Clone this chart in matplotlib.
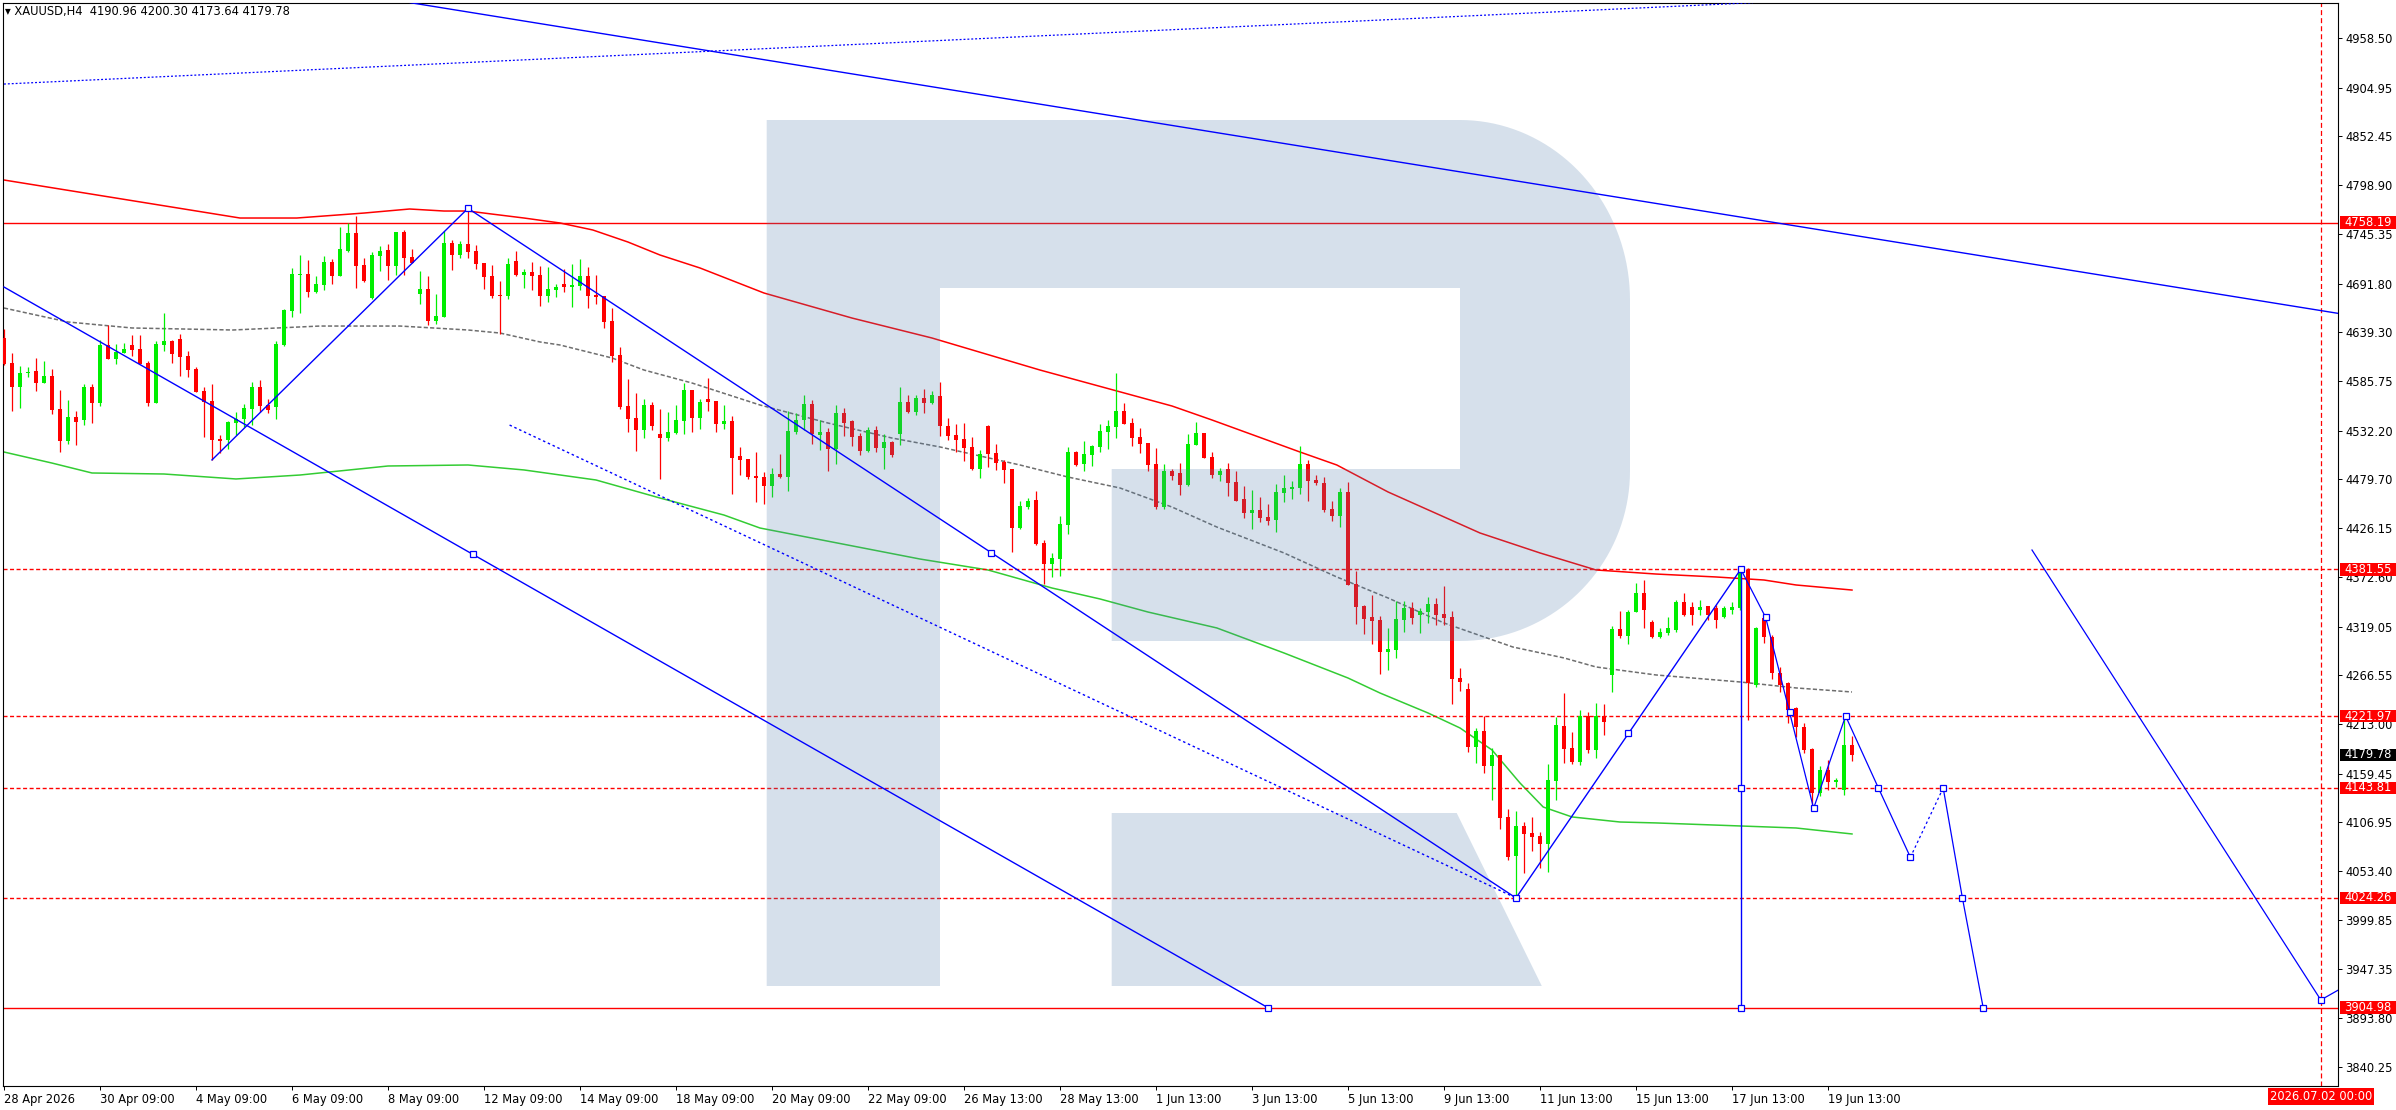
import numpy as np
import matplotlib
matplotlib.use("Agg")
import matplotlib.pyplot as plt
from matplotlib.patches import Polygon, Rectangle
from matplotlib.transforms import blended_transform_factory

plt.rcParams["font.family"] = ["DejaVu Sans"]
plt.rcParams["lines.scale_dashes"] = False

# ---- data (H4 candles, index 0 = 28 Apr 2026) ----
SYMBOL = "XAUUSD,H4"
HEADER_OHLC = [4190.96, 4200.30, 4173.64, 4179.78]

opens = [4632.5, 4605.7, 4580.0, 4594.4, 4597.0, 4584.3, 4591.6, 4556.1, 4521.3, 4547.0,
         4544.1, 4579.6, 4562.6, 4625.2, 4610.4, 4616.9, 4625.2, 4620.9, 4605.7, 4562.6,
         4625.2, 4629.6, 4631.8, 4613.3, 4599.2, 4575.3, 4564.4, 4523.1, 4522.0, 4540.8,
         4545.2, 4556.1, 4579.6, 4560.0, 4558.2, 4625.2, 4662.5, 4701.3, 4702.4, 4683.2,
         4690.8, 4715.4, 4700.6, 4727.7, 4746.9, 4712.1, 4676.7, 4722.3, 4728.4, 4711.4,
         4748.0, 4720.8, 4681.0, 4686.1, 4651.7, 4656.0, 4736.0, 4723.4, 4735.0, 4727.3,
         4714.3, 4700.5, 4679.9, 4678.8, 4716.5, 4701.6, 4704.5, 4701.2, 4678.8, 4685.3,
         4691.5, 4688.6, 4689.7, 4700.2, 4679.9, 4678.4, 4651.3, 4614.3, 4558.9, 4545.9,
         4533.2, 4560.0, 4528.5, 4524.5, 4529.9, 4543.0, 4576.3, 4546.2, 4566.5, 4564.4,
         4539.7, 4542.6, 4504.6, 4501.3, 4483.2, 4481.8, 4472.4, 4485.0, 4482.1, 4531.0,
         4544.1, 4561.1, 4527.8, 4530.7, 4512.6, 4551.3, 4542.6, 4526.3, 4510.4, 4532.8,
         4513.6, 4519.8, 4528.9, 4563.3, 4552.8, 4567.6, 4562.2, 4569.8, 4537.2, 4527.4,
         4523.0, 4514.3, 4490.4, 4537.2, 4507.8, 4498.0, 4490.4, 4426.7, 4449.1, 4456.7,
         4410.0, 4387.6, 4393.0, 4429.9, 4508.9, 4496.2, 4506.0, 4514.7, 4531.0, 4536.4,
         4553.4, 4540.4, 4525.2, 4518.7, 4495.9, 4449.5, 4488.3, 4486.1, 4473.1, 4516.5,
         4529.2, 4503.5, 4483.9, 4490.5, 4476.3, 4457.9, 4442.6, 4445.9, 4438.3, 4435.1,
         4464.4, 4468.7, 4469.8, 4495.9, 4478.5, 4475.2, 4447.0, 4439.4, 4465.5, 4365.9,
         4341.6, 4329.6, 4326.4, 4291.6, 4293.7, 4326.3, 4339.3, 4331.7, 4335.0, 4343.7,
         4332.8, 4329.6, 4263.3, 4251.3, 4188.3, 4205.7, 4167.7, 4179.6, 4112.2, 4069.9,
         4102.5, 4094.9, 4091.6, 4082.9, 4151.4, 4211.1, 4187.2, 4172.0, 4222.0, 4185.0,
         4222.0, 4266.5, 4316.5, 4309.0, 4335.5, 4355.4, 4324.6, 4308.3, 4311.9, 4315.6,
         4346.3, 4340.9, 4337.3, 4341.6, 4339.1, 4329.3, 4337.3, 4339.1, 4380.7, 4255.8,
         4328.2, 4308.3, 4268.5, 4257.6, 4230.4, 4210.5, 4185.9, 4138.0, 4163.3, 4150.5,
         4141.6, 4190.96]
highs = [4642.6, 4616.2, 4602.4, 4601.7, 4610.7, 4607.9, 4599.2, 4576.3, 4565.5, 4553.5,
         4582.9, 4582.5, 4630.7, 4647.3, 4626.3, 4627.4, 4636.1, 4636.1, 4607.9, 4629.6,
         4660.4, 4630.7, 4637.2, 4618.7, 4601.0, 4580.0, 4582.9, 4527.4, 4542.7, 4552.4,
         4561.5, 4584.7, 4587.2, 4566.6, 4629.6, 4664.7, 4708.9, 4723.0, 4717.6, 4700.2,
         4721.9, 4718.7, 4753.4, 4758.1, 4765.4, 4719.7, 4726.3, 4732.8, 4735.0, 4748.0,
         4750.2, 4729.5, 4705.6, 4700.2, 4680.6, 4749.1, 4739.3, 4738.2, 4773.7, 4733.8,
         4714.3, 4712.1, 4694.7, 4719.7, 4727.3, 4707.8, 4715.4, 4711.0, 4709.9, 4691.5,
         4707.8, 4713.2, 4718.6, 4710.0, 4701.2, 4678.4, 4665.4, 4623.0, 4588.3, 4573.0,
         4566.5, 4563.3, 4555.7, 4552.4, 4560.0, 4583.9, 4576.3, 4566.5, 4589.3, 4564.4,
         4560.0, 4548.1, 4514.4, 4501.3, 4508.9, 4487.2, 4491.5, 4506.8, 4553.5, 4551.3,
         4570.9, 4565.4, 4543.7, 4535.0, 4560.0, 4556.7, 4543.7, 4529.6, 4536.1, 4537.2,
         4528.5, 4520.9, 4579.6, 4570.9, 4570.9, 4577.4, 4575.2, 4585.0, 4545.8, 4539.3,
         4540.4, 4525.2, 4511.1, 4538.2, 4517.6, 4500.2, 4490.4, 4455.7, 4458.9, 4466.5,
         4413.6, 4399.5, 4439.4, 4514.3, 4510.0, 4520.9, 4516.5, 4539.3, 4543.7, 4594.7,
         4562.1, 4545.8, 4535.0, 4518.7, 4513.2, 4495.9, 4490.5, 4497.0, 4528.5, 4541.5,
         4529.2, 4508.9, 4491.5, 4497.0, 4488.3, 4472.0, 4467.6, 4460.0, 4452.4, 4474.2,
         4483.9, 4477.4, 4515.4, 4500.2, 4483.9, 4481.8, 4455.7, 4469.8, 4476.3, 4379.6,
         4342.7, 4353.5, 4330.7, 4317.7, 4346.9, 4346.9, 4345.9, 4339.3, 4351.3, 4350.2,
         4363.3, 4336.1, 4274.1, 4257.8, 4208.9, 4222.0, 4187.2, 4179.6, 4120.9, 4118.8,
         4106.8, 4112.2, 4095.9, 4169.8, 4220.9, 4247.0, 4204.6, 4228.5, 4226.3, 4236.1,
         4235.0, 4319.8, 4336.1, 4337.3, 4366.3, 4369.9, 4326.6, 4317.4, 4329.3, 4348.1,
         4355.4, 4346.3, 4348.1, 4341.6, 4342.7, 4341.6, 4346.3, 4382.0, 4382.5, 4319.2,
         4329.3, 4310.0, 4275.7, 4259.4, 4232.2, 4214.0, 4187.0, 4168.0, 4174.2, 4154.3,
         4222.0, 4200.30]
lows = [4603.5, 4553.9, 4557.1, 4590.8, 4575.6, 4583.6, 4550.6, 4509.3, 4518.0, 4516.9,
        4538.7, 4540.8, 4559.3, 4609.7, 4604.6, 4616.2, 4613.6, 4604.6, 4559.0, 4561.9,
        4618.7, 4606.0, 4591.9, 4590.8, 4573.8, 4525.6, 4500.3, 4508.2, 4512.6, 4527.4,
        4536.5, 4538.7, 4552.8, 4551.7, 4545.2, 4624.5, 4656.0, 4660.4, 4677.7, 4681.4,
        4685.0, 4691.5, 4700.6, 4726.3, 4687.5, 4693.7, 4675.2, 4706.0, 4695.8, 4701.3,
        4701.3, 4713.9, 4670.1, 4647.3, 4648.4, 4656.0, 4707.1, 4720.1, 4720.1, 4708.1,
        4686.4, 4676.6, 4637.5, 4675.5, 4700.5, 4687.5, 4685.3, 4667.9, 4672.3, 4677.7,
        4683.1, 4666.8, 4685.3, 4665.7, 4670.1, 4644.0, 4606.4, 4556.0, 4530.7, 4510.4,
        4524.5, 4533.2, 4480.0, 4521.3, 4528.9, 4528.9, 4531.0, 4534.3, 4553.8, 4531.0,
        4533.9, 4463.7, 4484.3, 4480.0, 4455.0, 4452.8, 4460.4, 4481.0, 4466.9, 4528.9,
        4533.2, 4518.0, 4511.5, 4488.7, 4496.3, 4526.7, 4515.8, 4506.0, 4509.3, 4509.3,
        4490.8, 4503.9, 4516.9, 4551.7, 4549.5, 4551.7, 4561.5, 4526.7, 4522.3, 4509.3,
        4499.5, 4489.3, 4481.0, 4493.0, 4489.7, 4475.6, 4400.6, 4425.6, 4447.3, 4408.2,
        4365.8, 4373.4, 4374.5, 4420.2, 4494.0, 4488.6, 4494.0, 4509.3, 4512.5, 4524.5,
        4539.7, 4515.8, 4508.2, 4488.6, 4447.3, 4447.3, 4478.5, 4462.2, 4472.0, 4516.5,
        4502.8, 4480.7, 4477.4, 4461.1, 4455.7, 4437.2, 4425.3, 4433.2, 4429.6, 4422.4,
        4454.6, 4457.9, 4463.3, 4455.7, 4473.1, 4443.7, 4434.0, 4427.4, 4364.8, 4322.0,
        4311.2, 4300.3, 4267.7, 4272.0, 4285.0, 4313.3, 4322.0, 4312.2, 4323.0, 4320.9,
        4320.9, 4235.0, 4249.2, 4182.9, 4170.9, 4160.1, 4130.7, 4099.2, 4065.5, 4023.9,
        4051.4, 4075.3, 4056.8, 4052.5, 4130.7, 4170.9, 4169.8, 4168.7, 4181.8, 4176.4,
        4201.4, 4248.1, 4306.7, 4300.3, 4335.0, 4317.4, 4306.5, 4306.5, 4310.0, 4313.8,
        4331.0, 4321.0, 4331.8, 4326.4, 4317.4, 4328.0, 4333.0, 4337.0, 4217.8, 4253.0,
        4301.1, 4262.0, 4248.5, 4214.1, 4199.7, 4181.5, 4125.0, 4135.0, 4141.6, 4145.0,
        4136.2, 4173.64]
closes = [4604.6, 4580.0, 4594.8, 4596.3, 4584.3, 4591.6, 4555.0, 4521.3, 4547.0, 4541.9,
          4579.6, 4562.6, 4625.2, 4610.4, 4617.6, 4620.9, 4619.8, 4605.0, 4562.6, 4626.3,
          4629.6, 4615.8, 4612.6, 4598.4, 4574.5, 4563.7, 4522.0, 4521.3, 4541.6, 4545.2,
          4556.8, 4579.6, 4559.3, 4555.0, 4626.3, 4663.3, 4702.4, 4702.4, 4683.2, 4691.5,
          4715.4, 4700.6, 4729.5, 4746.9, 4711.4, 4694.8, 4723.0, 4727.4, 4711.4, 4748.0,
          4720.1, 4714.7, 4686.1, 4651.7, 4656.7, 4736.0, 4723.4, 4735.0, 4726.6, 4713.6,
          4699.4, 4678.8, 4678.8, 4713.2, 4701.6, 4704.5, 4700.5, 4678.8, 4686.0, 4688.2,
          4688.6, 4690.4, 4700.2, 4678.8, 4677.7, 4650.5, 4613.6, 4557.8, 4545.2, 4533.2,
          4560.0, 4537.5, 4524.5, 4530.7, 4543.7, 4576.3, 4546.2, 4563.3, 4563.6, 4539.7,
          4542.6, 4502.8, 4500.6, 4482.1, 4481.0, 4472.4, 4485.0, 4482.1, 4531.8, 4544.1,
          4561.1, 4528.5, 4530.7, 4512.6, 4551.3, 4540.8, 4525.6, 4510.4, 4532.8, 4513.6,
          4519.8, 4506.0, 4563.3, 4552.8, 4567.6, 4562.5, 4570.9, 4537.0, 4526.6, 4522.3,
          4513.6, 4490.4, 4506.7, 4507.1, 4497.3, 4489.7, 4426.7, 4450.2, 4455.7, 4409.3,
          4387.6, 4394.1, 4430.7, 4508.9, 4495.1, 4506.7, 4515.4, 4531.7, 4537.2, 4553.4,
          4539.7, 4524.5, 4518.0, 4495.1, 4449.5, 4488.3, 4482.9, 4473.1, 4517.6, 4529.2,
          4502.8, 4483.9, 4488.3, 4475.2, 4455.7, 4442.6, 4445.9, 4437.2, 4434.0, 4465.5,
          4469.8, 4470.9, 4495.9, 4477.4, 4475.2, 4445.9, 4439.4, 4465.5, 4364.8, 4340.5,
          4327.5, 4325.3, 4291.6, 4294.9, 4327.4, 4339.3, 4328.5, 4336.1, 4343.7, 4331.7,
          4328.5, 4262.2, 4258.9, 4188.3, 4205.7, 4167.7, 4179.6, 4111.2, 4068.8, 4102.5,
          4093.8, 4090.5, 4082.9, 4152.4, 4212.2, 4186.1, 4172.0, 4222.0, 4185.0, 4222.0,
          4215.5, 4316.5, 4308.9, 4335.5, 4355.4, 4337.3, 4308.3, 4313.7, 4317.4, 4346.3,
          4331.8, 4331.8, 4340.9, 4331.8, 4326.4, 4339.1, 4340.9, 4380.7, 4257.6, 4317.4,
          4308.3, 4268.5, 4255.8, 4228.6, 4210.5, 4185.2, 4138.7, 4163.3, 4150.7, 4152.5,
          4190.9, 4179.78]

# moving averages, sampled at bar indices
ma_red_x = [0, 29.5, 36.6, 45, 50.7, 55, 58, 61, 65, 69.5, 73.6, 78, 82, 87, 95, 106, 116,
            129.5, 146, 151, 162, 166.6, 173, 184.5, 192, 199, 206.5, 214, 220, 224, 231]
ma_red_y = [4804.5, 4763.2, 4763.2, 4768.6, 4773.0, 4770.8, 4770.8, 4767.5, 4763.2, 4757.8,
            4750.2, 4737.1, 4723.0, 4708.9, 4681.7, 4654.5, 4632.8, 4598.0, 4558.9, 4543.7,
            4508.9, 4494.8, 4465.5, 4420.9, 4399.2, 4380.7, 4376.3, 4373.1, 4369.8, 4364.4,
            4358.9]
ma_gray_x = [0, 8, 16, 28.6, 39.5, 49.5, 58, 62, 67, 69.5, 76, 80, 86, 94.5, 103, 111, 117,
             127, 133, 139.5, 146, 151.6, 160, 166.6, 173, 180, 188.6, 195, 199, 206.5, 217,
             224, 231]
ma_gray_y = [4665.4, 4650.2, 4643.7, 4641.5, 4645.8, 4645.8, 4641.5, 4638.2, 4628.5, 4625.2,
             4611.1, 4598.0, 4583.9, 4560.0, 4540.4, 4524.1, 4514.4, 4494.8, 4481.7, 4469.8,
             4449.1, 4427.4, 4399.2, 4373.1, 4350.3, 4323.1, 4297.0, 4285.1, 4275.3, 4266.6,
             4259.0, 4252.5, 4248.1]
ma_green_x = [0, 6, 11, 20, 29, 37, 48, 58, 65, 74, 82, 90, 94.5, 114.5, 123, 131, 137, 143,
              151.6, 160, 168, 172, 178, 182, 186, 189.5, 192.4, 196, 202, 206.5, 217, 224, 231]
ma_green_y = [4508.9, 4496.9, 4486.1, 4485.0, 4479.6, 4483.9, 4493.7, 4494.8, 4489.4, 4478.5,
              4458.9, 4440.4, 4426.3, 4392.6, 4380.7, 4361.1, 4349.2, 4335.0, 4317.7, 4290.5,
              4263.3, 4247.0, 4225.3, 4209.0, 4185.1, 4149.2, 4123.1, 4112.3, 4106.8, 4105.8,
              4102.5, 4100.3, 4093.8]

# horizontal levels
level_solid = [4758.19, 3904.98]
level_dotted = [4381.55, 4221.97, 4143.81, 4024.26]
last_price = 4179.78
future_bar = 289.6            # 2026.07.02 00:00
future_label = "2026.07.02 00:00"

# blue drawings: (bar index, price) anchor points
top_dotted = [(0, 4908.8), (218.6, 4997.2)]
top_trend = [(50.8, 4997.2), (291.75, 4659.6)]
channel_low = [(0, 4688.2), (158, 3904.98)]
channel_low_marks = [(58.6, 4398.1), (158, 3904.98)]
swing_a = [(26, 4500.3), (58, 4773.7), (189, 4024.26)]
swing_a_marks = [(58, 4773.7), (123.4, 4399.6), (189, 4024.26)]
mid_dotted = [(63.2, 4538.2), (189, 4024.26)]
swing_b = [(189, 4024.26), (217.1, 4381.55)]
swing_b_marks = [(203, 4203.2), (217.1, 4381.55)]
vert_line = [(217.1, 4381.55), (217.1, 3904.98)]
vert_marks = [(217.1, 4143.81), (217.1, 3904.98)]
fc_a = [(217.1, 4381.55), (220.2, 4329.3), (223.2, 4226.0), (226.2, 4121.7),
        (230.2, 4221.97), (234.3, 4143.81), (238.3, 4068.5)]
fc_b = [(238.3, 4068.5), (242.4, 4143.81)]
fc_c = [(242.4, 4143.81), (244.8, 4024.26), (247.4, 3904.98)]
fc_right = [(253.5, 4402.4), (289.6, 3913.4), (291.75, 3924.0)]
fc_marks = fc_a[1:] + fc_c + [(289.6, 3913.4)]

date_ticks = list(range(0, 229, 12))
date_labels = ["28 Apr 2026", "30 Apr 09:00", "4 May 09:00", "6 May 09:00", "8 May 09:00",
               "12 May 09:00", "14 May 09:00", "18 May 09:00", "20 May 09:00", "22 May 09:00",
               "26 May 13:00", "28 May 13:00", "1 Jun 13:00", "3 Jun 13:00", "5 Jun 13:00",
               "9 Jun 13:00", "11 Jun 13:00", "15 Jun 13:00", "17 Jun 13:00", "19 Jun 13:00"]
price_ticks = [4958.50, 4904.95, 4852.45, 4798.90, 4745.35, 4691.80, 4639.30, 4585.75,
               4532.20, 4479.70, 4426.15, 4372.60, 4319.05, 4266.55, 4213.00, 4159.45,
               4106.95, 4053.40, 3999.85, 3947.35, 3893.80, 3840.25]

# ---- layout (pixels) ----
W, H = 2396, 1110
AX_L, AX_R, AX_T, AX_B = 2.7, 2338.0, 2.7, 1086.0
FS = 8.3
GREEN, RED, BLUE = "#00ee00", "#ff0000", "#0000ff"

fig = plt.figure(figsize=(W / 100, H / 100), dpi=100, facecolor="white")
ax = fig.add_axes([AX_L / W, 1 - AX_B / H, (AX_R - AX_L) / W, (AX_B - AX_T) / H])
ax.set_xlim(-0.16, 291.75)
ax.set_ylim(3819.9, 4997.2)

# candles
o, hi, lo, c = map(np.array, (opens, highs, lows, closes))
idx = np.arange(len(o))
col = np.where(c >= o, GREEN, RED)
ax.vlines(idx, lo, hi, colors=col, lw=0.9, zorder=3)
ax.bar(idx, np.maximum(np.abs(c - o), 1.1), bottom=np.minimum(o, c), width=0.62,
       color=col, lw=0, zorder=3)

# moving averages
ax.plot(ma_red_x, ma_red_y, color=RED, lw=1.1, zorder=2)
ax.plot(ma_gray_x, ma_gray_y, color="#6e6e6e", lw=1.1, ls=(0, (3.0, 1.6)), zorder=2)
ax.plot(ma_green_x, ma_green_y, color="#33cc33", lw=1.1, zorder=2)

# horizontal levels + vertical time line
for lv in level_solid:
    ax.axhline(lv, color=RED, lw=1.0, zorder=2)
for lv in level_dotted:
    ax.axhline(lv, color=RED, lw=1.0, ls=(0, (2.9, 1.8)), zorder=2)
ax.axvline(future_bar, color=RED, lw=0.9, ls=(0, (3.6, 2.2)), zorder=2)

# watermark logo (pixel geometry -> axes fraction)
def to_ax(pts):
    return [((x - AX_L) / (AX_R - AX_L), (AX_B - y) / (AX_B - AX_T)) for x, y in pts]

t1 = np.linspace(np.pi / 2, 0, 40)
t2 = np.linspace(0, -np.pi / 2, 40)
arc_top = [(1460 + 170 * np.cos(t), 300 - 180 * np.sin(t)) for t in t1]
arc_bot = [(1460 + 170 * np.cos(t), 471 - 170 * np.sin(t)) for t in t2]
body = ([(766.7, 120)] + arc_top + arc_bot +
        [(1111.7, 641), (1111.7, 469), (1460, 469), (1460, 288), (940, 288),
         (940, 986), (766.7, 986)])
leg = [(1111.7, 813), (1456.7, 813), (1541.8, 986), (1111.7, 986)]
for shape in (body, leg):
    ax.add_patch(Polygon(to_ax(shape), closed=True, transform=ax.transAxes,
                         facecolor="#517eac", alpha=0.235, lw=0, zorder=4))

# blue drawings
def line(pts, **kw):
    xs, ys = zip(*pts)
    ax.plot(xs, ys, color=BLUE, zorder=6, **kw)

def marks(pts):
    xs, ys = zip(*pts)
    ax.plot(xs, ys, ls="none", marker="s", ms=4.2, mfc="white", mec=BLUE, mew=0.9, zorder=7)

line(top_dotted, lw=0.9, ls=(0, (1.4, 1.4)))
line(top_trend, lw=1.0)
line(channel_low, lw=1.0)
line(swing_a, lw=1.0)
line(mid_dotted, lw=1.0, ls=(0, (1.8, 2.0)))
line(swing_b, lw=1.0)
line(vert_line, lw=1.0)
line(fc_a, lw=0.9)
line(fc_b, lw=0.9, ls=(0, (1.8, 2.0)))
line(fc_c, lw=0.9)
line(fc_right, lw=0.9)
marks(channel_low_marks)
marks(swing_a_marks)
marks(swing_b_marks)
marks(vert_marks)
marks(fc_marks)

# axes styling
for sp in ax.spines.values():
    sp.set_linewidth(0.8)
    sp.set_color("black")
ax.yaxis.tick_right()
ax.set_yticks(price_ticks)
ax.set_yticklabels([f"{p:.2f}" for p in price_ticks])
ax.set_xticks(date_ticks)
ax.set_xticklabels(date_labels, ha="left")
ax.tick_params(axis="y", direction="out", length=3.2, width=0.7, pad=1.8, labelsize=FS)
ax.tick_params(axis="x", direction="out", length=3.2, width=0.7, pad=1.5, labelsize=FS)

# price boxes on the right scale
tr = blended_transform_factory(fig.transFigure, ax.transData)
box_h = 12.7 * (4997.2 - 3819.9) / (AX_B - AX_T)
for lv, fc in [(p, RED) for p in level_solid + level_dotted] + [(last_price, "black")]:
    ax.add_patch(Rectangle((2340 / W, lv - box_h / 2), (W - 2340) / W, box_h, transform=tr,
                           facecolor=fc, lw=0, clip_on=False, zorder=10))
    ax.text(2344.5 / W, lv, f"{lv:.2f}", transform=tr, color="white", fontsize=FS,
            ha="left", va="center", clip_on=False, zorder=11)

# future time label on the bottom scale
trx = blended_transform_factory(ax.transData, fig.transFigure)
ax.text(future_bar, 1 - 1096.5 / H, future_label, transform=trx, color="white",
        fontsize=FS, ha="center", va="center", zorder=11,
        bbox=dict(boxstyle="square,pad=0.18", facecolor=RED, edgecolor="none"))

# header
fig.text(5 / W, 1 - 11 / H, "▾ " + SYMBOL + "  " + " ".join(f"{v:.2f}" for v in HEADER_OHLC),
         fontsize=FS, ha="left", va="center", color="black")

fig.savefig("out.png", dpi=100, facecolor="white")
